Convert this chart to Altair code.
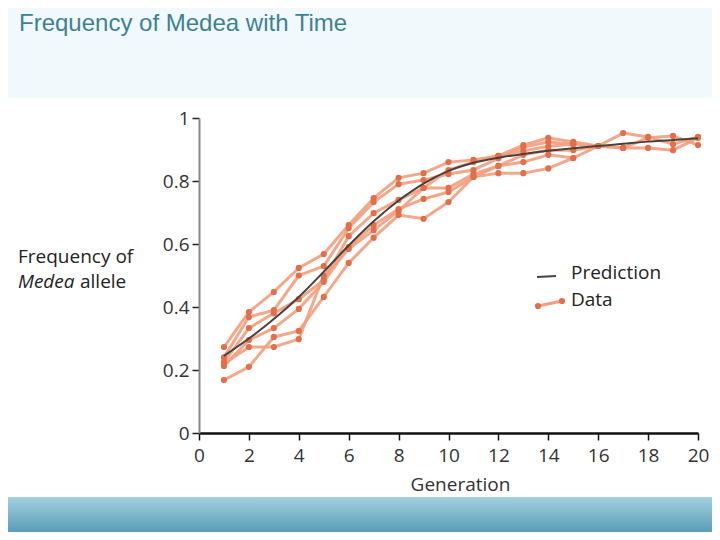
import altair as alt
import pandas as pd

# ---- data ----
generations = list(range(1, 21))
prediction = [0.245, 0.300, 0.362, 0.432, 0.512, 0.595, 0.672, 0.738, 0.792, 0.832,
              0.858, 0.874, 0.886, 0.896, 0.904, 0.911, 0.918, 0.925, 0.930, 0.936]
run1 = [0.273, 0.384, 0.448, 0.524, 0.568, 0.660, 0.746, 0.810, 0.825, 0.860,
        0.867, 0.880, 0.914, 0.937, 0.924, 0.911, 0.952, 0.940, 0.917, 0.940]
run2 = [0.240, 0.368, 0.390, 0.500, 0.530, 0.650, 0.733, 0.790, 0.803, 0.822,
        0.835, 0.872, 0.908, 0.924, 0.917, 0.911, 0.905, 0.937, 0.943, 0.914]
run3 = [0.225, 0.333, 0.380, 0.425, 0.486, 0.625, 0.698, 0.740, 0.778, 0.778,
        0.822, 0.848, 0.883, 0.898, 0.898, 0.911, 0.905, 0.905, 0.898, 0.937]
run4 = [0.213, 0.295, 0.333, 0.394, 0.480, 0.590, 0.660, 0.711, 0.743, 0.765,
        0.813, 0.848, 0.860, 0.883, 0.873, 0.911]
run5 = [0.220, 0.273, 0.273, 0.298, 0.500, 0.584, 0.644, 0.705, 0.778, 0.835,
        0.860, 0.880, 0.895, 0.910, 0.917]
run6 = [0.168, 0.210, 0.305, 0.324, 0.432, 0.540, 0.620, 0.692, 0.680, 0.733,
        0.813, 0.825, 0.825, 0.840, 0.873]
runs = {"1": run1, "2": run2, "3": run3, "4": run4, "5": run5, "6": run6}

x_ticks = list(range(0, 21))
y_ticks = [round(i * 0.1, 1) for i in range(11)]

rows = []
for name, vals in runs.items():
    for g, v in zip(generations, vals):
        rows.append({"run": name, "gen": g, "freq": v})
data_df = pd.DataFrame(rows)
pred_df = pd.DataFrame({"gen": generations, "freq": prediction})

FONT = "Open Sans"
LINE_C = "#f29f7d"
DOT_C = "#e36e4a"
PRED_C = "#4a3f3d"

xs = alt.Scale(domain=[0, 20], nice=False)
ys = alt.Scale(domain=[0, 1], nice=False)

x_axis = alt.Axis(values=x_ticks, title="Generation", grid=False, zindex=2,
                  labelExpr="datum.value % 2 == 0 ? datum.label : ''",
                  labelFlush=False, labelOverlap=False,
                  labelFontSize=19, labelFont=FONT, labelColor="#333", labelPadding=6,
                  titleFontSize=19, titleFont=FONT, titleFontWeight="normal", titleColor="#333",
                  titlePadding=10, titleX=261,
                  domainColor="#111", domainWidth=2.5, tickColor="#111", tickWidth=1.5, tickSize=7)
y_axis = alt.Axis(values=y_ticks, title="", grid=False, zindex=2,
                  labelExpr="round(datum.value*10) % 2 == 0 ? format(datum.value, '~g') : ''",
                  labelFlush=False, labelOverlap=False,
                  labelFontSize=19, labelFont=FONT, labelColor="#333", labelPadding=3,
                  domainColor="#888", domainWidth=2, tickColor="#222", tickWidth=1.5, tickSize=7)

# decorative slide background
panel = alt.Chart(pd.DataFrame({"a": [0]})).mark_rect(color="white").encode(
    x=alt.value(-191), x2=alt.value(513), y=alt.value(-20), y2=alt.value(379))
band = alt.Chart(pd.DataFrame({"a": [0]})).mark_rect(
    color=alt.Gradient(gradient="linear", x1=0, x2=0, y1=0, y2=1,
                       stops=[alt.GradientStop(color="#a3d0e0", offset=0),
                              alt.GradientStop(color="#5a9db6", offset=1)])
).encode(x=alt.value(-191), x2=alt.value(513), y=alt.value(379), y2=alt.value(414))
title = alt.Chart(pd.DataFrame({"t": ["Frequency of Medea with Time"]})).mark_text(
    font="Liberation Sans", fontSize=24, color="#3d8294", align="left", baseline="alphabetic"
).encode(text="t:N", x=alt.value(-180), y=alt.value(-87))

lines = alt.Chart(data_df).mark_line(color=LINE_C, strokeWidth=3, opacity=0.9).encode(
    x=alt.X("gen:Q", scale=xs, axis=x_axis),
    y=alt.Y("freq:Q", scale=ys, axis=y_axis),
    detail="run:N")
dots = alt.Chart(data_df).mark_circle(color=DOT_C, size=38, opacity=1).encode(
    x=alt.X("gen:Q", scale=xs), y=alt.Y("freq:Q", scale=ys))
pred = alt.Chart(pred_df).mark_line(color=PRED_C, strokeWidth=2, interpolate="monotone").encode(
    x=alt.X("gen:Q", scale=xs), y=alt.Y("freq:Q", scale=ys))

# y-axis title (two lines, "Medea" in italics)
ytxt = alt.Chart(pd.DataFrame({"t": ["Frequency of"]})).mark_text(
    font=FONT, fontSize=19, color="#222", align="left", baseline="middle"
).encode(text="t:N", x=alt.value(-181), y=alt.value(139))
ytxt2 = alt.Chart(pd.DataFrame({"t": ["Medea"]})).mark_text(
    font=FONT, fontSize=19, fontStyle="italic", color="#222", align="left", baseline="middle"
).encode(text="t:N", x=alt.value(-181), y=alt.value(164))
ytxt3 = alt.Chart(pd.DataFrame({"t": ["allele"]})).mark_text(
    font=FONT, fontSize=19, color="#222", align="left", baseline="middle"
).encode(text="t:N", x=alt.value(-119), y=alt.value(164))

# legend
leg_pred = alt.Chart(pd.DataFrame({"a": [0]})).mark_rule(color=PRED_C, strokeWidth=2).encode(
    x=alt.value(338), x2=alt.value(357), y=alt.value(159), y2=alt.value(158))
leg_data = alt.Chart(pd.DataFrame({"a": [0]})).mark_rule(color=LINE_C, strokeWidth=3).encode(
    x=alt.value(339), x2=alt.value(363), y=alt.value(188), y2=alt.value(183))
leg_dot1 = alt.Chart(pd.DataFrame({"a": [0]})).mark_circle(color=DOT_C, size=38, opacity=1).encode(
    x=alt.value(339), y=alt.value(188))
leg_dot2 = alt.Chart(pd.DataFrame({"a": [0]})).mark_circle(color=DOT_C, size=38, opacity=1).encode(
    x=alt.value(363), y=alt.value(183))
leg_t1 = alt.Chart(pd.DataFrame({"t": ["Prediction"]})).mark_text(
    font=FONT, fontSize=19, color="#222", align="left", baseline="middle"
).encode(text="t:N", x=alt.value(372), y=alt.value(155))
leg_t2 = alt.Chart(pd.DataFrame({"t": ["Data"]})).mark_text(
    font=FONT, fontSize=19, color="#222", align="left", baseline="middle"
).encode(text="t:N", x=alt.value(372), y=alt.value(182))

chart = alt.layer(
    panel, band, title, lines, dots, pred, ytxt, ytxt2, ytxt3,
    leg_pred, leg_data, leg_dot1, leg_dot2, leg_t1, leg_t2
).properties(
    width=499, height=315,
    padding={"left": 191, "top": 110, "right": 14, "bottom": 99},
    autosize=alt.AutoSizeParams(type="none"),
    background="#f2f9fc",
).configure_view(stroke=None)

chart.save("out.html", embed_options={"renderer": "svg", "actions": False})
